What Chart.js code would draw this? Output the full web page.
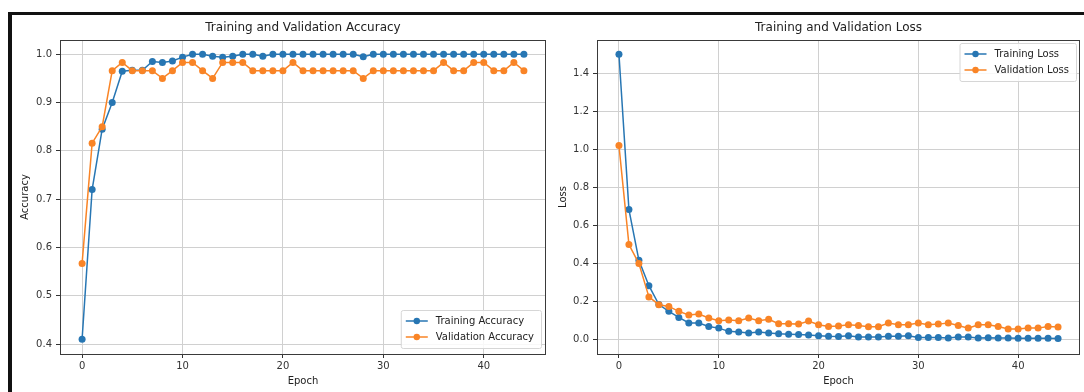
<!DOCTYPE html>
<html>
<head>
<meta charset="utf-8">
<script src="https://cdn.jsdelivr.net/npm/chart.js@4"></script>
<style>
  html, body { margin: 0; padding: 0; background: #fff; }
  body { width: 1084px; height: 392px; position: relative; overflow: hidden; }
  .frame { position: absolute; left: 8px; top: 12px; right: 0; bottom: -10px;
           border-top: 3px solid #111; border-left: 4px solid #111; }
  canvas { position: absolute; top: 15px; }
  #accChart { left: 12px; }
  #lossChart { left: 550px; }
</style>
</head>
<body>
<div class="frame"></div>
<canvas id="accChart" width="538" height="377"></canvas>
<canvas id="lossChart" width="534" height="377"></canvas>
<script>
// values, one per epoch (0..44)
const trainAcc = [
  0.41, 0.72, 0.845, 0.90, 0.965, 0.967, 0.967, 0.985, 0.983, 0.986,
  0.994, 1.0, 1.0, 0.996, 0.994, 0.996, 1.0, 1.0, 0.996, 1.0,
  1.0, 1.0, 1.0, 1.0, 1.0, 1.0, 1.0, 1.0, 0.995, 1.0,
  1.0, 1.0, 1.0, 1.0, 1.0, 1.0, 1.0, 1.0, 1.0, 1.0,
  1.0, 1.0, 1.0, 1.0, 1.0
];
const valAcc = [
  0.567, 0.816, 0.85, 0.966, 0.983, 0.966, 0.966, 0.966, 0.95, 0.966,
  0.983, 0.983, 0.966, 0.95, 0.983, 0.983, 0.983, 0.966, 0.966, 0.966,
  0.966, 0.983, 0.966, 0.966, 0.966, 0.966, 0.966, 0.966, 0.95, 0.966,
  0.966, 0.966, 0.966, 0.966, 0.966, 0.966, 0.983, 0.966, 0.966, 0.983,
  0.983, 0.966, 0.966, 0.983, 0.966
];
const trainLoss = [
  1.50, 0.684, 0.417, 0.284, 0.185, 0.149, 0.117, 0.088, 0.088, 0.07,
  0.061, 0.044, 0.04, 0.036, 0.04, 0.035, 0.031, 0.029, 0.028, 0.025,
  0.021, 0.018, 0.017, 0.021, 0.014, 0.014, 0.014, 0.018, 0.018, 0.021,
  0.012, 0.012, 0.012, 0.009, 0.014, 0.014, 0.009, 0.010, 0.009, 0.009,
  0.008, 0.008, 0.008, 0.008, 0.007
];
const valLoss = [
  1.02, 0.50, 0.40, 0.225, 0.184, 0.175, 0.149, 0.13, 0.135, 0.114,
  0.10, 0.104, 0.10, 0.114, 0.10, 0.107, 0.084, 0.084, 0.082, 0.098,
  0.079, 0.07, 0.072, 0.079, 0.075, 0.068, 0.068, 0.088, 0.079, 0.079,
  0.088, 0.079, 0.082, 0.088, 0.075, 0.061, 0.079, 0.079, 0.07, 0.056,
  0.056, 0.061, 0.061, 0.07, 0.067
];
const epochs = trainAcc.map((_, i) => i);

const BLUE = '#2776b3';
const ORANGE = '#f98426';
const FONT = '"DejaVu Sans", sans-serif';

// matplotlib-ish frame (all four spines) and an in-axes legend box
const frameAndLegend = {
  id: 'frameAndLegend',
  afterDatasetsDraw(chart, args, opts) {
    const { ctx, chartArea: a } = chart;
    ctx.save();
    ctx.strokeStyle = '#3a3a3a';
    ctx.lineWidth = 1;
    ctx.strokeRect(Math.round(a.left) + 0.5, Math.round(a.top) + 0.5,
                   Math.round(a.width) - 1, Math.round(a.height));

    ctx.font = '10px ' + FONT;
    const sets = chart.data.datasets;
    const tw = Math.max(...sets.map(d => ctx.measureText(d.label).width));
    const w = 35 + tw + 7, h = 38;
    const x = a.right - opts.dx - w;
    const y = opts.lower ? a.bottom - opts.dy - h : a.top + opts.dy;
    ctx.beginPath();
    ctx.roundRect(x + 0.5, y + 0.5, w, h, 2);
    ctx.fillStyle = 'rgba(255,255,255,0.85)';
    ctx.fill();
    ctx.strokeStyle = '#d6d6d6';
    ctx.stroke();
    sets.forEach((d, i) => {
      const cy = y + 11 + 16 * i;
      ctx.strokeStyle = d.borderColor;
      ctx.lineWidth = 1.5;
      ctx.beginPath();
      ctx.moveTo(x + 5, cy);
      ctx.lineTo(x + 27, cy);
      ctx.stroke();
      ctx.fillStyle = d.borderColor;
      ctx.beginPath();
      ctx.arc(x + 16, cy, 3.2, 0, Math.PI * 2);
      ctx.fill();
      ctx.fillStyle = '#222';
      ctx.textBaseline = 'middle';
      ctx.fillText(d.label, x + 35, cy + 0.5);
    });
    ctx.restore();
  }
};

function lineSet(label, data, color, order) {
  return {
    label: label,
    data: data,
    borderColor: color,
    backgroundColor: color,
    pointBackgroundColor: color,
    borderWidth: 1.5,
    pointRadius: 3.5,
    pointBorderWidth: 0,
    tension: 0,
    order: order
  };
}

function makeChart(id, title, yTitle, sets, yMin, yMax, yStep, yWidth, padRight, legendOpts) {
  new Chart(document.getElementById(id), {
    type: 'line',
    data: { labels: epochs, datasets: sets },
    options: {
      responsive: false,
      animation: false,
      layout: { padding: { left: 0, right: padRight, top: 0, bottom: 0 } },
      plugins: {
        legend: { display: false },
        tooltip: { enabled: false },
        title: {
          display: true,
          text: title,
          fullSize: false,
          color: '#222',
          font: { family: FONT, size: 12, weight: 'normal' },
          padding: { top: 6, bottom: 4.6 }
        },
        frameAndLegend: legendOpts
      },
      scales: {
        x: {
          type: 'linear',
          min: -2.2,
          max: 46.2,
          afterFit: s => { s.height = 38; },
          ticks: {
            stepSize: 10,
            includeBounds: false,
            color: '#333',
            padding: 2,
            font: { family: FONT, size: 10 }
          },
          grid: { color: '#d0d0d0', tickColor: '#333', tickLength: 4, lineWidth: 1 },
          border: { display: false },
          title: {
            display: true,
            text: 'Epoch',
            color: '#222',
            font: { family: FONT, size: 10 },
            padding: { top: 0, bottom: 5 }
          }
        },
        y: {
          min: yMin,
          max: yMax,
          afterFit: s => { s.width = yWidth; },
          ticks: {
            stepSize: yStep,
            includeBounds: false,
            color: '#333',
            padding: 4,
            font: { family: FONT, size: 10 },
            callback: v => v.toFixed(1)
          },
          grid: { color: '#d0d0d0', tickColor: '#333', tickLength: 4, lineWidth: 1 },
          border: { display: false },
          title: {
            display: true,
            text: yTitle,
            color: '#222',
            font: { family: FONT, size: 10 },
            padding: { top: 7, bottom: 0 }
          }
        }
      }
    },
    plugins: [frameAndLegend]
  });
}

makeChart('accChart', 'Training and Validation Accuracy', 'Accuracy', [
  lineSet('Training Accuracy', trainAcc, BLUE, 1),
  lineSet('Validation Accuracy', valAcc, ORANGE, 0)
], 0.3795, 1.0295, 0.1, 48, 3, { lower: true, dx: 5, dy: 6 });

makeChart('lossChart', 'Training and Validation Loss', 'Loss', [
  lineSet('Training Loss', trainLoss, BLUE, 1),
  lineSet('Validation Loss', valLoss, ORANGE, 0)
], -0.075, 1.575, 0.2, 47, 2, { lower: false, dx: 4, dy: 3 });
</script>
</body>
</html>
